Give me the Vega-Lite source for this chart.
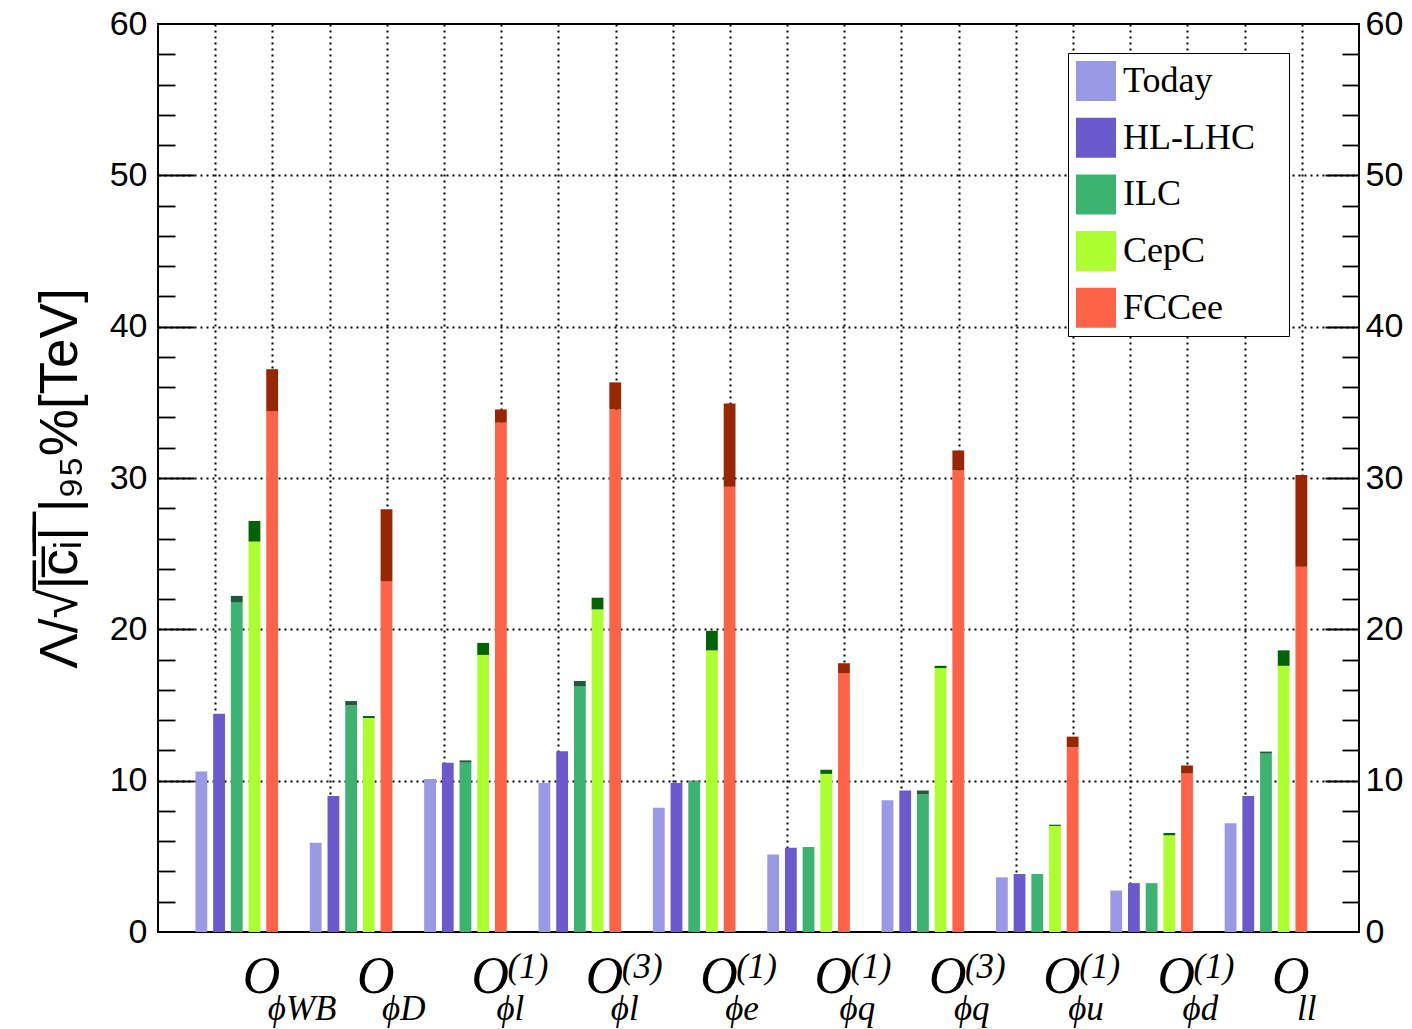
{
  "$schema": "https://vega.github.io/schema/vega-lite/v6.json",
  "width": 1201,
  "height": 908,
  "autosize": {"type": "none"},
  "padding": {"left": 158, "top": 24, "right": 53, "bottom": 97},
  "background": "white",
  "config": {
    "font": "Liberation Sans",
    "view": {"stroke": "black", "strokeWidth": 2},
    "axis": {"labelOverlap": false, "labelBound": false, "labelFlush": false, "domain": false, "grid": false, "title": null}
  },
  "datasets": {
    "limits": [
      {"op": "O||ϕWB", "series": "Today", "lo": 10.61, "hi": 10.61},
      {"op": "O||ϕWB", "series": "HL-LHC", "lo": 14.42, "hi": 14.42},
      {"op": "O||ϕWB", "series": "ILC", "lo": 21.77, "hi": 22.21},
      {"op": "O||ϕWB", "series": "CepC", "lo": 25.80, "hi": 27.16},
      {"op": "O||ϕWB", "series": "FCCee", "lo": 34.42, "hi": 37.19},
      {"op": "O||ϕD", "series": "Today", "lo": 5.89, "hi": 5.89},
      {"op": "O||ϕD", "series": "HL-LHC", "lo": 8.99, "hi": 8.99},
      {"op": "O||ϕD", "series": "ILC", "lo": 14.97, "hi": 15.26},
      {"op": "O||ϕD", "series": "CepC", "lo": 14.14, "hi": 14.27},
      {"op": "O||ϕD", "series": "FCCee", "lo": 23.16, "hi": 27.93},
      {"op": "O|(1)|ϕl", "series": "Today", "lo": 10.11, "hi": 10.11},
      {"op": "O|(1)|ϕl", "series": "HL-LHC", "lo": 11.19, "hi": 11.19},
      {"op": "O|(1)|ϕl", "series": "ILC", "lo": 11.19, "hi": 11.34},
      {"op": "O|(1)|ϕl", "series": "CepC", "lo": 18.31, "hi": 19.10},
      {"op": "O|(1)|ϕl", "series": "FCCee", "lo": 33.66, "hi": 34.53},
      {"op": "O|(3)|ϕl", "series": "Today", "lo": 9.85, "hi": 9.85},
      {"op": "O|(3)|ϕl", "series": "HL-LHC", "lo": 11.94, "hi": 11.94},
      {"op": "O|(3)|ϕl", "series": "ILC", "lo": 16.22, "hi": 16.59},
      {"op": "O|(3)|ϕl", "series": "CepC", "lo": 21.32, "hi": 22.09},
      {"op": "O|(3)|ϕl", "series": "FCCee", "lo": 34.53, "hi": 36.32},
      {"op": "O|(1)|ϕe", "series": "Today", "lo": 8.21, "hi": 8.21},
      {"op": "O|(1)|ϕe", "series": "HL-LHC", "lo": 9.85, "hi": 9.85},
      {"op": "O|(1)|ϕe", "series": "ILC", "lo": 9.95, "hi": 10.0},
      {"op": "O|(1)|ϕe", "series": "CepC", "lo": 18.61, "hi": 19.90},
      {"op": "O|(1)|ϕe", "series": "FCCee", "lo": 29.43, "hi": 34.93},
      {"op": "O|(1)|ϕq", "series": "Today", "lo": 5.12, "hi": 5.12},
      {"op": "O|(1)|ϕq", "series": "HL-LHC", "lo": 5.57, "hi": 5.57},
      {"op": "O|(1)|ϕq", "series": "ILC", "lo": 5.62, "hi": 5.62},
      {"op": "O|(1)|ϕq", "series": "CepC", "lo": 10.45, "hi": 10.72},
      {"op": "O|(1)|ϕq", "series": "FCCee", "lo": 17.11, "hi": 17.76},
      {"op": "O|(3)|ϕq", "series": "Today", "lo": 8.71, "hi": 8.71},
      {"op": "O|(3)|ϕq", "series": "HL-LHC", "lo": 9.35, "hi": 9.35},
      {"op": "O|(3)|ϕq", "series": "ILC", "lo": 9.10, "hi": 9.35},
      {"op": "O|(3)|ϕq", "series": "CepC", "lo": 17.44, "hi": 17.59},
      {"op": "O|(3)|ϕq", "series": "FCCee", "lo": 30.50, "hi": 31.82},
      {"op": "O|(1)|ϕu", "series": "Today", "lo": 3.61, "hi": 3.61},
      {"op": "O|(1)|ϕu", "series": "HL-LHC", "lo": 3.83, "hi": 3.83},
      {"op": "O|(1)|ϕu", "series": "ILC", "lo": 3.83, "hi": 3.83},
      {"op": "O|(1)|ϕu", "series": "CepC", "lo": 7.01, "hi": 7.09},
      {"op": "O|(1)|ϕu", "series": "FCCee", "lo": 12.21, "hi": 12.91},
      {"op": "O|(1)|ϕd", "series": "Today", "lo": 2.74, "hi": 2.74},
      {"op": "O|(1)|ϕd", "series": "HL-LHC", "lo": 3.23, "hi": 3.23},
      {"op": "O|(1)|ϕd", "series": "ILC", "lo": 3.23, "hi": 3.23},
      {"op": "O|(1)|ϕd", "series": "CepC", "lo": 6.39, "hi": 6.54},
      {"op": "O|(1)|ϕd", "series": "FCCee", "lo": 10.47, "hi": 11.0},
      {"op": "O||ll", "series": "Today", "lo": 7.19, "hi": 7.19},
      {"op": "O||ll", "series": "HL-LHC", "lo": 8.98, "hi": 8.98},
      {"op": "O||ll", "series": "ILC", "lo": 11.79, "hi": 11.92},
      {"op": "O||ll", "series": "CepC", "lo": 17.59, "hi": 18.61},
      {"op": "O||ll", "series": "FCCee", "lo": 24.13, "hi": 30.20}
    ]
  },
  "data": {"name": "limits"},
  "resolve": {
    "scale": {"x": "independent"},
    "axis": {"x": "independent", "y": "independent"}
  },
  "layer": [
    {
      "description": "vertical dotted grid, 21 divisions across the frame",
      "mark": {"type": "rule", "opacity": 0},
      "encoding": {
        "x": {
          "datum": 0, "type": "quantitative",
          "scale": {"domain": [0, 21], "nice": false, "zero": false},
          "axis": {"orient": "bottom", "values": [1,2,3,4,5,6,7,8,9,10,11,12,13,14,15,16,17,18,19,20],
                   "grid": true, "gridColor": "black", "gridDash": [2, 4], "gridWidth": 2,
                   "labels": false, "ticks": false, "domain": false}
        }
      }
    },
    {
      "description": "left major ticks (inward) and horizontal dotted grid",
      "mark": {"type": "rule", "opacity": 0},
      "encoding": {
        "y": {
          "datum": 0, "type": "quantitative",
          "axis": {"orient": "left", "values": [10, 20, 30, 40, 50], "labels": false,
                   "ticks": true, "tickSize": -36, "tickWidth": 2, "tickColor": "black",
                   "grid": true, "gridColor": "black", "gridDash": [2, 4], "gridWidth": 2}
        }
      }
    },
    {
      "description": "left minor ticks",
      "mark": {"type": "rule", "opacity": 0},
      "encoding": {
        "y": {
          "datum": 0, "type": "quantitative",
          "axis": {"orient": "left", "values": [2,4,6,8,12,14,16,18,22,24,26,28,32,34,36,38,42,44,46,48,52,54,56,58],
                   "labels": false, "ticks": true, "tickSize": -17, "tickWidth": 1.8, "tickColor": "black"}
        }
      }
    },
    {
      "description": "left labels and axis title",
      "mark": {"type": "rule", "opacity": 0},
      "encoding": {
        "y": {
          "datum": 0, "type": "quantitative",
          "axis": {"orient": "left", "values": [0, 10, 20, 30, 40, 50, 60], "ticks": false,
                   "labelFont": "Liberation Sans", "labelFontSize": 34, "labelColor": "black", "labelPadding": 11,
                   "title": "Λ/√|̅c̅ᵢ̅|̅ |₉₅%[TeV]", "titleFont": "Liberation Sans", "titleFontSize": 53,
                   "titleFontWeight": "normal", "titleColor": "black", "titlePadding": 22}
        }
      }
    },
    {
      "description": "right major ticks",
      "mark": {"type": "rule", "opacity": 0},
      "encoding": {
        "y": {
          "datum": 0, "type": "quantitative",
          "axis": {"orient": "right", "values": [10, 20, 30, 40, 50], "labels": false,
                   "ticks": true, "tickSize": -34, "tickWidth": 2, "tickColor": "black"}
        }
      }
    },
    {
      "description": "right minor ticks",
      "mark": {"type": "rule", "opacity": 0},
      "encoding": {
        "y": {
          "datum": 0, "type": "quantitative",
          "axis": {"orient": "right", "values": [2,4,6,8,12,14,16,18,22,24,26,28,32,34,36,38,42,44,46,48,52,54,56,58],
                   "labels": false, "ticks": true, "tickSize": -17, "tickWidth": 1.8, "tickColor": "black"}
        }
      }
    },
    {
      "description": "right labels",
      "mark": {"type": "rule", "opacity": 0},
      "encoding": {
        "y": {
          "datum": 0, "type": "quantitative",
          "axis": {"orient": "right", "values": [0, 10, 20, 30, 40, 50, 60], "ticks": false,
                   "labelFont": "Liberation Sans", "labelFontSize": 34, "labelColor": "black", "labelPadding": 6}
        }
      }
    },
    {
      "description": "grouped bars with the operator names underneath",
      "resolve": {
        "scale": {"color": "independent"},
        "axis": {"x": "independent"}
      },
      "encoding": {
        "x": {
          "field": "op", "type": "nominal",
          "scale": {
            "domain": ["O||ϕWB", "O||ϕD", "O|(1)|ϕl", "O|(3)|ϕl", "O|(1)|ϕe", "O|(1)|ϕq", "O|(3)|ϕq", "O|(1)|ϕu", "O|(1)|ϕd", "O||ll"],
            "paddingInner": 0.2777, "paddingOuter": 0.39, "align": 0.42
          }
        },
        "xOffset": {
          "field": "series", "type": "nominal",
          "scale": {"domain": ["Today", "HL-LHC", "ILC", "CepC", "FCCee"], "paddingInner": 0.333, "paddingOuter": 0}
        }
      },
      "layer": [
        {
          "mark": {"type": "bar"},
          "encoding": {
            "x": {
              "field": "op", "type": "nominal",
              "axis": {"orient": "bottom", "ticks": false, "domain": false,
                       "labelExpr": "split(datum.label, '|')[0]",
                       "labelFont": "Liberation Serif", "labelFontStyle": "italic", "labelFontSize": 52,
                       "labelColor": "black", "labelAlign": "left", "labelBaseline": "alphabetic",
                       "labelAngle": 0, "labelOffset": 6, "labelPadding": 60}
            },
            "y": {"field": "lo", "type": "quantitative", "scale": {"domain": [0, 60], "nice": false}, "axis": null},
            "color": {
              "field": "series", "type": "nominal",
              "scale": {"domain": ["Today", "HL-LHC", "ILC", "CepC", "FCCee"],
                        "range": ["#9999e6", "#6a5acd", "#3cb371", "#adff2f", "#ff6347"]},
              "legend": {
                "orient": "none", "legendX": 910, "legendY": 29, "title": null,
                "direction": "vertical",
                "padding": 8, "strokeColor": "black", "fillColor": "white",
                "symbolType": "square", "symbolSize": 1600, "symbolStrokeWidth": 0, "symbolOpacity": 1,
                "rowPadding": 16.7, "labelOffset": 7,
                "labelFont": "Liberation Serif", "labelFontSize": 36, "labelColor": "black",
                "labelLimit": 400, "labelExpr": "datum.label + '\u00a0\u00a0\u2009\u200b'"
              }
            }
          }
        },
        {
          "mark": {"type": "bar"},
          "encoding": {
            "x": {
              "field": "op", "type": "nominal",
              "axis": {"orient": "bottom", "ticks": false, "domain": false,
                       "labelExpr": "split(datum.label, '|')[1]",
                       "labelFont": "Liberation Serif", "labelFontStyle": "italic", "labelFontSize": 35,
                       "labelColor": "black", "labelAlign": "left", "labelBaseline": "alphabetic",
                       "labelAngle": 0, "labelOffset": 42, "labelPadding": 45}
            },
            "y": {"field": "lo", "type": "quantitative", "axis": null},
            "y2": {"field": "hi"},
            "color": {
              "field": "series", "type": "nominal",
              "scale": {"domain": ["Today", "HL-LHC", "ILC", "CepC", "FCCee"],
                        "range": ["#9999e6", "#6a5acd", "#1f5a3c", "#006400", "#992600"]},
              "legend": null
            }
          }
        },
        {
          "mark": {"type": "rule", "opacity": 0},
          "encoding": {
            "x": {
              "field": "op", "type": "nominal",
              "axis": {"orient": "bottom", "ticks": false, "domain": false,
                       "labelExpr": "split(datum.label, '|')[2]",
                       "labelFont": "Liberation Serif", "labelFontStyle": "italic", "labelFontSize": 35,
                       "labelColor": "black", "labelAlign": "left", "labelBaseline": "alphabetic",
                       "labelAngle": 0, "labelOffset": 31, "labelPadding": 87}
            }
          }
        }
      ]
    }
  ]
}
